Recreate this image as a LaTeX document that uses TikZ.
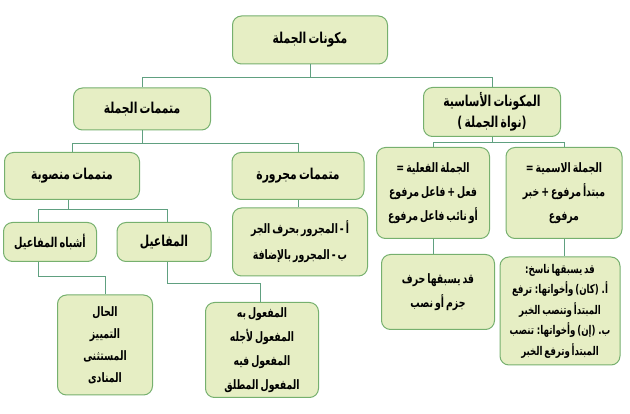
\documentclass[tikz,border=0pt]{standalone}
\usepackage{fontspec}
\usepackage{tikz}
\usetikzlibrary{calc}
\TeXXeTstate=1
\newfontfamily\arfont[Script=Arabic,FakeStretch=0.72,WordSpace=0.6]{DejaVu Sans}
\newcommand{\ar}[1]{\beginR #1\endR}
\definecolor{boxfill}{RGB}{230,238,196}
\definecolor{boxline}{RGB}{118,176,110}
\definecolor{linkc}{RGB}{96,160,128}

\begin{document}
\begin{tikzpicture}[x=1pt,y=-1pt,
  box/.style={draw=boxline,fill=boxfill,line width=1pt,rounded corners=9pt,align=center,
    inner sep=2pt,font=\arfont\bfseries\fontsize{15}{21}\selectfont},
  dense/.style={box,font=\arfont\bfseries\fontsize{13}{24}\selectfont},
  link/.style={draw=linkc,line width=1pt}]
\useasboundingbox (0,0) rectangle (630,414);
\node[box,minimum width=155,minimum height=48] (root) at (310,40) {\ar{مكونات الجملة}};
\node[box,minimum width=137,minimum height=42] (mut) at (142,109) {\ar{متممات الجملة}};
\node[box,minimum width=137,minimum height=49] (asas) at (492,112) {\ar{المكونات الأساسية}\\\ar{(نواة الجملة )}};
\node[dense,minimum width=113,minimum height=91] (fil) at (433,193) {\ar{الجملة الفعلية =}\\\ar{فعل + فاعل مرفوع}\\\ar{أو نائب فاعل مرفوع}};
\node[dense,minimum width=116,minimum height=91] (ism) at (564,193) {\ar{الجملة الاسمية =}\\\ar{مبتدأ مرفوع + خبر}\\\ar{مرفوع}};
\node[dense,minimum width=113,minimum height=75] (harf) at (438,292) {\ar{قد يسبقها حرف}\\\ar{جزم أو نصب}};
\node[dense,minimum width=120,minimum height=108,font=\arfont\bfseries\fontsize{12}{20.5}\selectfont] (nasikh) at (560,311) {\ar{قد يسبقها ناسخ:}\\\ar{أ. (كان) وأخواتها: ترفع}\\\ar{المبتدأ وتنصب الخبر}\\\ar{ب. (إن) وأخواتها: تنصب}\\\ar{المبتدأ وترفع الخبر}};
\node[box,minimum width=135,minimum height=47] (mansub) at (72,176) {\ar{متممات منصوبة}};
\node[box,minimum width=132,minimum height=47] (majrur) at (298,176) {\ar{متممات مجرورة}};
\node[dense,minimum width=135,minimum height=68,font=\arfont\bfseries\fontsize{13}{26}\selectfont] (jarr) at (300,242) {\ar{أ - المجرور بحرف الجر}\\\ar{ب - المجرور بالإضافة}};
\node[box,minimum width=93,minimum height=39,font=\arfont\bfseries\fontsize{13.5}{21}\selectfont] (ashbah) at (50,242) {\ar{أشباه المفاعيل}};
\node[box,minimum width=94,minimum height=39] (mafail) at (164,242) {\ar{المفاعيل}};
\node[dense,minimum width=95,minimum height=100,font=\arfont\bfseries\fontsize{13}{22}\selectfont] (hal) at (105,345) {\ar{الحال}\\\ar{التمييز}\\\ar{المستثنى}\\\ar{المنادى}};
\node[dense,minimum width=113,minimum height=95] (maful) at (262,350) {\ar{المفعول به}\\\ar{المفعول لأجله}\\\ar{المفعول فيه}\\\ar{المفعول المطلق}};
\draw[link] (root.south) -- ++(0,13) -| (mut.north);
\draw[link] (root.south) -- ++(0,13) -| (asas.north);
\draw[link] (asas.south) -- ++(0,6) -| (fil.north);
\draw[link] (asas.south) -- ++(0,6) -| (ism.north);
\draw[link] (fil.south) -- (fil.south |- harf.north);
\draw[link] (ism.south) -- (ism.south |- nasikh.north);
\draw[link] (mut.south) -- ++(0,13) -| (mansub.north);
\draw[link] (mut.south) -- ++(0,13) -| (majrur.north);
\draw[link] (majrur.south) -- (majrur.south |- jarr.north);
\draw[link] ([xshift=-4pt]mansub.south) -- ++(0,10) -| ([xshift=-12pt]ashbah.north);
\draw[link] ([xshift=-4pt]mansub.south) -- ++(0,10) -| ([xshift=3pt]mafail.north);
\draw[link] ([xshift=-12pt]ashbah.south) -- ++(0,15) -| (hal.north);
\draw[link] ([xshift=3pt]mafail.south) -- ++(0,22) -| ([xshift=-2pt]maful.north);
\end{tikzpicture}
\end{document}
